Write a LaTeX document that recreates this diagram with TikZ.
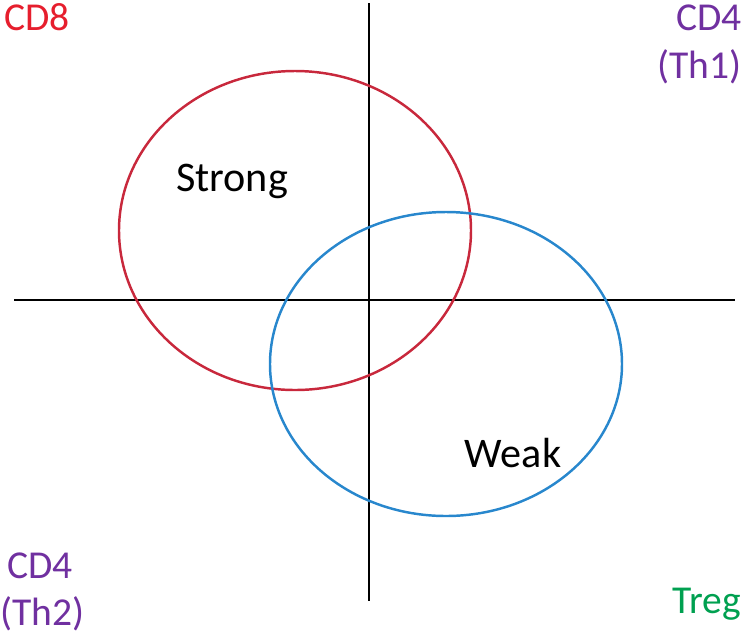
\documentclass[tikz,border=0pt]{standalone}
\usepackage{fontspec}
\setmainfont{Carlito}
\definecolor{cdred}{RGB}{230,30,45}
\definecolor{ellred}{RGB}{200,40,60}
\definecolor{ellblue}{RGB}{40,135,205}
\definecolor{cdpurple}{RGB}{112,48,160}
\definecolor{cdgreen}{RGB}{0,160,80}
\begin{document}
\begin{tikzpicture}[x=0.02cm,y=-0.02cm,
  axis/.style={line width=1.2pt,black},
  ell/.style={line width=1.4pt},
  lbl/.style={font=\fontsize{24}{28}\selectfont,inner sep=0pt},
  corner/.style={font=\fontsize{22.5}{27}\selectfont,inner sep=0pt}]
\useasboundingbox (0,0) rectangle (748,637);
\coordinate (vtop) at (369,3);
\coordinate (vbot) at (369,601);
\coordinate (hl) at (14,300);
\coordinate (hr) at (735,300);
\draw[axis] (vtop) -- (vbot);
\draw[axis] (hl) -- (hr);
\draw[ell,ellred] (295,230.5) ellipse [x radius=176, y radius=159.5];
\draw[ell,ellblue] (446,364) ellipse [x radius=176, y radius=152];
\node[lbl,anchor=base] (strong) at (232,191) {Strong};
\node[lbl,anchor=base] (weak) at (513,467) {Weak};
\node[corner,anchor=base west,text=cdred] (cd8) at (4,30) {CD8};
\node[corner,anchor=base east,text=cdpurple] (th1a) at (742,30) {CD4};
\node[corner,anchor=base east,text=cdpurple] (th1b) at (742,78) {(Th1)};
\node[corner,anchor=base west,text=cdpurple] (th2a) at (7,578) {CD4};
\node[corner,anchor=base west,text=cdpurple] (th2b) at (0,625) {(Th2)};
\node[corner,anchor=base east,text=cdgreen] (treg) at (741,613) {Treg};
\end{tikzpicture}
\end{document}
